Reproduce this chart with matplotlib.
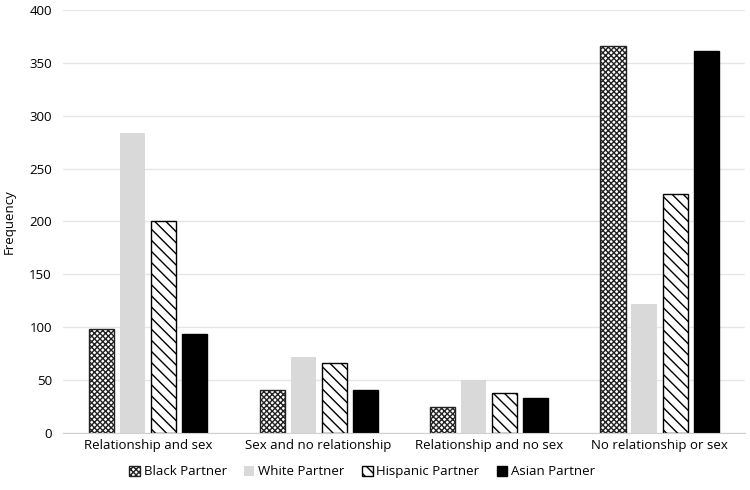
import numpy as np
import matplotlib
matplotlib.use("Agg")
import matplotlib.pyplot as plt

plt.rcParams['font.family'] = ['Open Sans', 'DejaVu Sans']
plt.rcParams['hatch.linewidth'] = 1.0

categories = ["Relationship and sex", "Sex and no relationship",
              "Relationship and no sex", "No relationship or sex"]
series = ["Black Partner", "White Partner", "Hispanic Partner", "Asian Partner"]
black = [98, 41, 25, 366]
white = [284, 72, 50, 122]
hispanic = [200, 66, 38, 226]
asian = [94, 41, 33, 361]

values = [black, white, hispanic, asian]
styles = [
    dict(facecolor='white', edgecolor='#222222', hatch='xxxxxx', linewidth=1.0),
    dict(facecolor='#d9d9d9', edgecolor='#d9d9d9', hatch=None, linewidth=0),
    dict(facecolor='white', edgecolor='black', hatch='\\\\\\', linewidth=1.0),
    dict(facecolor='black', edgecolor='black', hatch=None, linewidth=1.0),
]

fig = plt.figure(figsize=(7.5, 4.9), dpi=100)
ax = fig.add_axes([0.084, 0.116, 0.909, 0.864])

x = np.arange(len(categories))
width = 0.147
step = 0.182
for i, (name, vals, st) in enumerate(zip(series, values, styles)):
    ax.bar(x + (i - 1.5) * step, vals, width, label=name, **st)

ax.set_xlim(-0.5, 3.5)
ax.set_ylim(0, 400)
ax.set_yticks(range(0, 401, 50))
ax.set_xticks(x)
ax.set_xticklabels(categories, fontsize=9.5)
ax.tick_params(axis='y', labelsize=9.5, length=0, pad=8)
ax.tick_params(axis='x', length=0, pad=4)
ax.yaxis.grid(True, color='#e6e6e6', linewidth=1)
ax.set_axisbelow(True)
for s in ['top', 'right', 'left']:
    ax.spines[s].set_visible(False)
ax.spines['bottom'].set_color('#d0d0d0')
ax.set_ylabel("Frequency", fontsize=9.5)
ax.yaxis.set_label_coords(-0.07, 0.5)

fig.legend(*ax.get_legend_handles_labels(), loc='center',
           bbox_to_anchor=(0.483, 0.037), ncol=4, frameon=False,
           fontsize=9.5, handlelength=0.8, handleheight=0.8, handletextpad=0.3,
           columnspacing=1.3)

fig.savefig("out.png", dpi=100)
